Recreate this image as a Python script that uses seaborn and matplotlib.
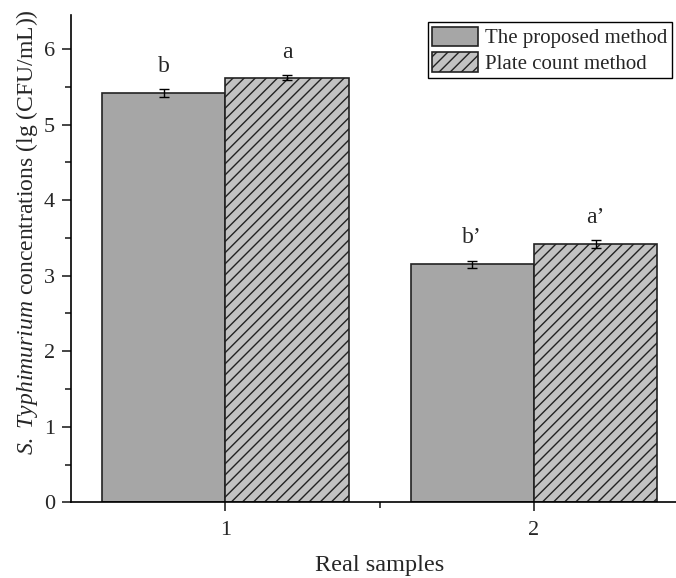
import matplotlib
matplotlib.use('Agg')
import matplotlib.pyplot as plt
from matplotlib.ticker import MultipleLocator, FixedLocator
import pandas as pd
import seaborn as sns

samples = ['1', '2']
methods = ['The proposed method', 'Plate count method']
proposed = [5.42, 3.15]
plate = [5.62, 3.42]
proposed_err = [0.05, 0.05]
plate_err = [0.03, 0.05]
letters_proposed = ['b', 'b\u2019']
letters_plate = ['a', 'a\u2019']

sns.set_style('ticks')
plt.rcParams['font.family'] = ['Liberation Serif', 'DejaVu Serif']
plt.rcParams['mathtext.fontset'] = 'custom'
plt.rcParams['mathtext.rm'] = 'Liberation Serif'
plt.rcParams['mathtext.it'] = 'Liberation Serif:italic'
plt.rcParams['hatch.linewidth'] = 1.0
plt.rcParams['hatch.color'] = '#222222'

df = pd.DataFrame({
    'sample': samples * 2,
    'method': [methods[0]] * 2 + [methods[1]] * 2,
    'value': proposed + plate,
    'err': proposed_err + plate_err,
    'letter': letters_proposed + letters_plate,
})

fig = plt.figure(figsize=(6.76, 5.78), dpi=100)
ax = fig.add_axes([0.105, 0.131, 0.895, 0.843])

sns.barplot(data=df, x='sample', y='value', hue='method', palette=['#a6a6a6', '#c2c2c2'],
            edgecolor='#222222', linewidth=1.2, errorbar=None, width=0.8, saturation=1, ax=ax)

patches = ax.patches[:4]
for i, p in enumerate(patches):
    if i >= 2:
        p.set_hatch('///')
    xc = p.get_x() + p.get_width() / 2
    row = df.iloc[i]
    ax.errorbar(xc, row['value'], yerr=row['err'], color='black', capsize=3.6,
                elinewidth=1, capthick=1)
    ax.text(xc, row['value'] + row['err'] + 0.16, row['letter'], ha='center', va='bottom',
            fontsize=17)

ax.set_xlim(-0.5, 1.46)
ax.set_ylim(0, 6.45)
ax.yaxis.set_major_locator(MultipleLocator(1))
ax.yaxis.set_minor_locator(MultipleLocator(0.5))
ax.xaxis.set_minor_locator(FixedLocator([0.5]))
ax.tick_params(axis='both', which='major', labelsize=16, length=6.5, width=1.2, direction='out', pad=5)
ax.tick_params(axis='x', which='major', pad=7)
ax.tick_params(axis='both', which='minor', length=4, width=1.2, direction='out')
for s in ['top', 'right']:
    ax.spines[s].set_visible(False)
for s in ['left', 'bottom']:
    ax.spines[s].set_linewidth(1.2)
    ax.spines[s].set_color('black')

ax.set_xlabel('Real samples', fontsize=17.5)
ax.xaxis.set_label_coords(0.51, -0.109)
ax.set_ylabel(r'$\mathit{S.\ Typhimurium}$ concentrations (lg (CFU/mL))', fontsize=17)
ax.yaxis.set_label_coords(-0.052, 0.555)

handles = ax.patches[:4]
leg = ax.legend([handles[0], handles[2]], methods, loc='upper right', fontsize=15,
                frameon=True, fancybox=False, edgecolor='black', framealpha=1,
                bbox_to_anchor=(0.993, 0.985),
                borderaxespad=0.0, handlelength=2.2, handleheight=1.05, handletextpad=0.35,
                labelspacing=0.2, borderpad=0.2)
leg.get_frame().set_linewidth(1.0)

fig.savefig('out.png', dpi=100)
